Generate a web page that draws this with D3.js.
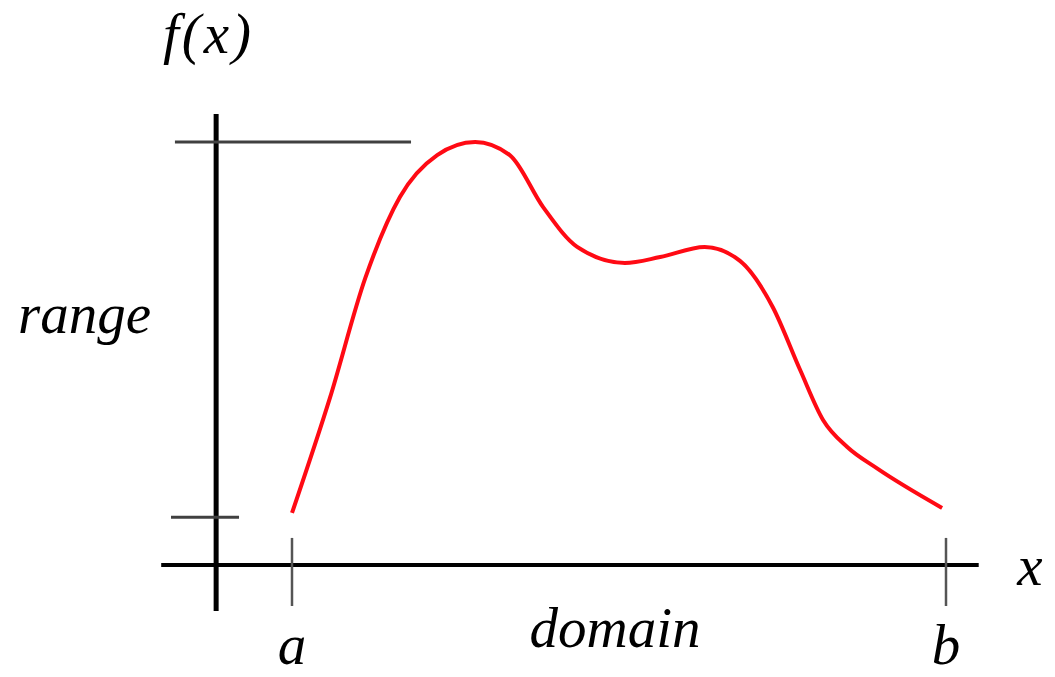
<!DOCTYPE html>
<html>
<head>
<meta charset="utf-8">
<script src="https://cdn.jsdelivr.net/npm/d3@7"></script>
<style>
  body { margin: 0; background: #fff; }
  .label { font-family: 'Liberation Serif', serif; font-style: italic; font-size: 57px; fill: #000; }
</style>
</head>
<body>
<script>
// curve f(x) on [a, b]; x in 0..100 (a..b), y in 0..100 (axis..top tick)
const curveX = [0, 5.8, 11.2, 16.5, 22.2, 28.0, 33.3, 38.4, 43.6, 50.9, 56.3, 63.1, 68.5, 73.5, 77.7, 81.2, 84.9, 89.4, 99.4];
const curveY = [12.3, 39.5, 67.8, 87.0, 96.9, 100, 96.9, 84.6, 75.2, 71.4, 72.8, 75.2, 71.9, 61.0, 46.1, 34.3, 27.9, 22.9, 13.5];
const domainTicks = [0, 100];
const domainLabels = ['a', 'b'];
const rangeTicks = [11.3, 100];

const width = 1055, height = 677;

const svg = d3.select('body')
              .append('svg')
              .attr('width', width)
              .attr('height', height);

const xScale = d3.scaleLinear().domain([0, 100]).range([292, 946]);
const yScale = d3.scaleLinear().domain([0, 100]).range([565, 142]);

// axes
svg.append('line')
  .attr('x1', xScale(-20)).attr('x2', xScale(105))
  .attr('y1', yScale(0)).attr('y2', yScale(0))
  .attr('stroke', '#000').attr('stroke-width', 4);

svg.append('line')
  .attr('x1', xScale(-11.6)).attr('x2', xScale(-11.6))
  .attr('y1', yScale(106.6)).attr('y2', yScale(-10.9))
  .attr('stroke', '#000').attr('stroke-width', 5);

// range ticks (top one runs out toward the peak)
svg.selectAll('.range-tick')
  .data(rangeTicks)
  .enter()
  .append('line')
  .attr('class', 'range-tick')
  .attr('x1', (d, i) => xScale(i ? -17.9 : -18.5))
  .attr('x2', (d, i) => xScale(i ? 18.2 : -8.1))
  .attr('y1', (d) => yScale(d))
  .attr('y2', (d) => yScale(d))
  .attr('stroke', '#404040').attr('stroke-width', 3);

// domain ticks
svg.selectAll('.domain-tick')
  .data(domainTicks)
  .enter()
  .append('line')
  .attr('class', 'domain-tick')
  .attr('x1', (d) => xScale(d)).attr('x2', (d) => xScale(d))
  .attr('y1', yScale(6.4)).attr('y2', yScale(-9.7))
  .attr('stroke', '#555').attr('stroke-width', 2.5);

svg.selectAll('.domain-label')
  .data(domainTicks)
  .enter()
  .append('text')
  .attr('class', 'label')
  .attr('x', (d) => xScale(d))
  .attr('y', 664)
  .attr('text-anchor', 'middle')
  .text((d, i) => domainLabels[i]);

// the function
const line = d3.line()
  .x((d) => xScale(d[0]))
  .y((d) => yScale(d[1]))
  .curve(d3.curveMonotoneX);

svg.append('path')
  .datum(curveX.map((x, i) => [x, curveY[i]]))
  .attr('d', line)
  .attr('fill', 'none')
  .attr('stroke', '#ff0a14')
  .attr('stroke-width', 4);

// labels
svg.append('text')
  .attr('class', 'label')
  .attr('x', 163).attr('y', 53)
  .style('letter-spacing', '3px')
  .text('f(x)');

svg.append('text')
  .attr('class', 'label')
  .attr('x', 18).attr('y', 333)
  .text('range');

svg.append('text')
  .attr('class', 'label')
  .attr('x', 615).attr('y', 647)
  .attr('text-anchor', 'middle')
  .text('domain');

svg.append('text')
  .attr('class', 'label')
  .attr('x', 1030).attr('y', 585)
  .attr('text-anchor', 'middle')
  .text('x');
</script>
</body>
</html>
